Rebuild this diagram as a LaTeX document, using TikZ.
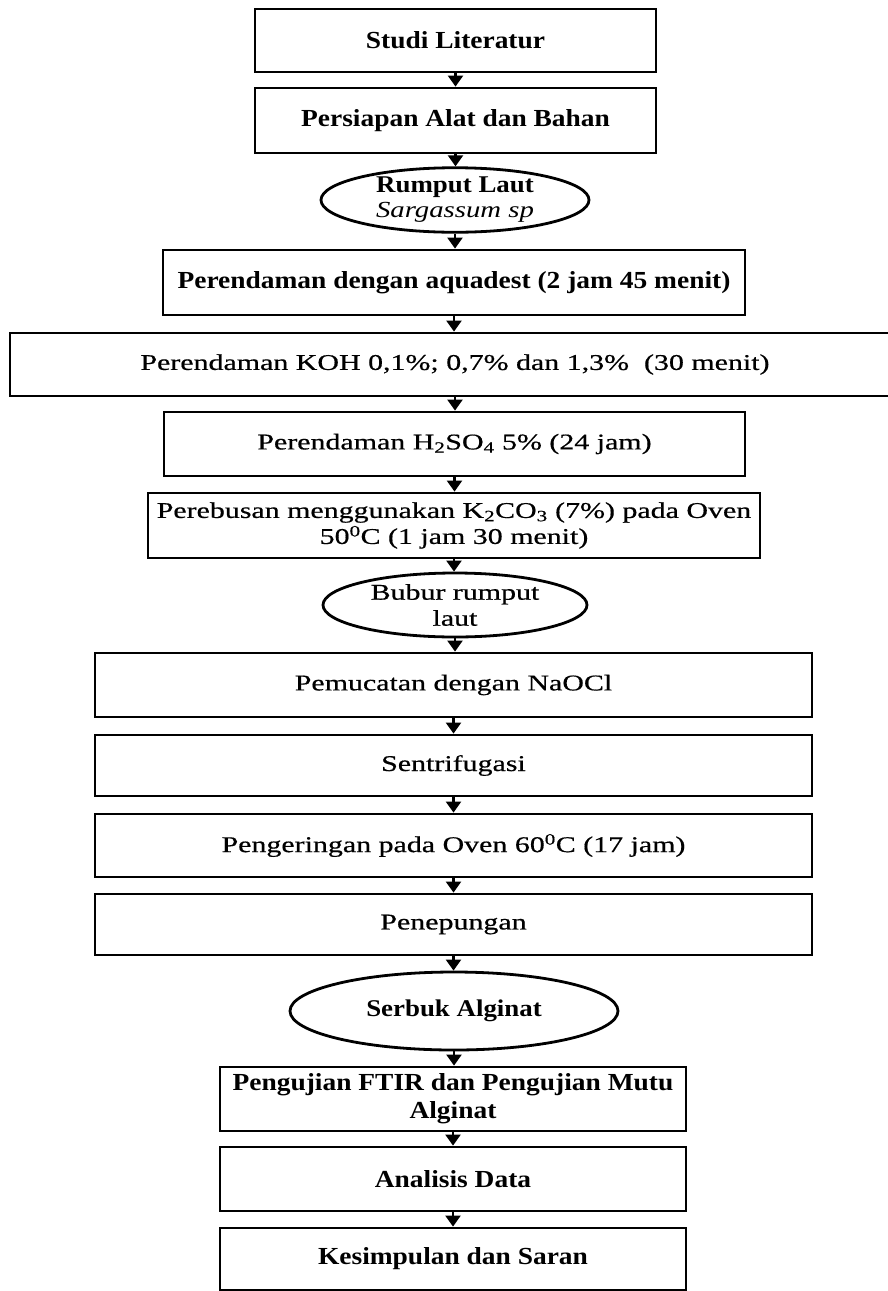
\documentclass[tikz,border=0pt]{standalone}
\usepackage{fontspec}
\setmainfont{Liberation Serif}[FakeStretch=1.33,FakeBold=0.6]
\newfontfamily\bfam{Liberation Serif}[FakeStretch=1.12]
\newfontfamily\itfam{Liberation Serif}[FakeStretch=1.25]
\usetikzlibrary{shapes.geometric,arrows.meta}
\newcommand\bfsz{\bfam\fontsize{24.5}{28}\selectfont\bfseries}
\newcommand\bfszb{\bfam\fontsize{24}{25}\selectfont\bfseries}
\newcommand\rgsz{\fontsize{22.5}{26}\selectfont}
\tikzset{
  boxb/.style={draw, line width=2.8pt, inner sep=0pt, align=center, font=\bfsz},
  boxr/.style={draw, line width=2.8pt, inner sep=0pt, align=center, font=\rgsz},
  ovalb/.style={draw, ellipse, line width=2.8pt, inner sep=0pt, align=center, font=\bfszb},
  ovalr/.style={draw, ellipse, line width=2.8pt, inner sep=0pt, align=center, font=\rgsz},
  arr/.style={line width=2.2pt, -{Triangle[length=11pt,width=15pt]}}
}
\begin{document}
\begin{tikzpicture}[x=1pt,y=-1pt]
\useasboundingbox (0,0) rectangle (888,1291);
\node[boxb, minimum width=401pt, minimum height=63pt] (s1) at (455.5,40.5) {Studi Literatur};
\node[boxb, minimum width=401pt, minimum height=65pt] (s2) at (455.5,120.5) {Persiapan Alat dan Bahan};
\node[ovalb, minimum width=268pt, minimum height=64pt] (e1) at (455,200) {Rumput Laut\\{\itfam\mdseries\fontsize{23}{25}\selectfont\itshape Sargassum sp}};
\node[boxb, minimum width=582pt, minimum height=65pt] (s3) at (454,282.5) {Perendaman dengan aquadest (2 jam 45 menit)};
\node[boxr, minimum width=890pt, minimum height=63pt] (s4) at (455,364.5) {Perendaman KOH 0,1\%; 0,7\% dan 1,3\%\ \ (30 menit)};
\node[boxr, minimum width=581pt, minimum height=64pt] (s5) at (454.5,444) {Perendaman H\textsubscript{2}SO\textsubscript{4} 5\% (24 jam)};
\node[boxr, minimum width=612pt, minimum height=65pt] (s6) at (454,525.5) {Perebusan menggunakan K\textsubscript{2}CO\textsubscript{3} (7\%) pada Oven\\50\textsuperscript{0}C (1 jam 30 menit)};
\node[ovalr, minimum width=264pt, minimum height=64pt] (e2) at (455,605) {Bubur rumput\\laut};
\node[boxr, minimum width=717pt, minimum height=64pt] (s7) at (453.5,685) {Pemucatan dengan NaOCl};
\node[boxr, minimum width=717pt, minimum height=61pt] (s8) at (453.5,765.5) {Sentrifugasi};
\node[boxr, minimum width=717pt, minimum height=63pt] (s9) at (453.5,845.5) {Pengeringan pada Oven 60\textsuperscript{0}C (17 jam)};
\node[boxr, minimum width=717pt, minimum height=61pt] (s10) at (453.5,924.5) {Penepungan};
\node[ovalb, minimum width=328pt, minimum height=78pt] (e3) at (454,1011) {Serbuk Alginat};
\node[boxb, minimum width=466pt, minimum height=64pt] (s11) at (453,1099) {Pengujian FTIR dan Pengujian Mutu\\Alginat};
\node[boxb, minimum width=466pt, minimum height=64pt] (s12) at (453,1179) {Analisis Data};
\node[boxb, minimum width=466pt, minimum height=62pt] (s13) at (453,1259) {Kesimpulan dan Saran};
\foreach \a/\b in {s1/s2,s2/e1,e1/s3,s3/s4,s4/s5,s5/s6,s6/e2,e2/s7,s7/s8,s8/s9,s9/s10,s10/e3,e3/s11,s11/s12,s12/s13}
  \draw[arr] (\a.south) -- (\a.south |- \b.north);
\end{tikzpicture}
\end{document}
